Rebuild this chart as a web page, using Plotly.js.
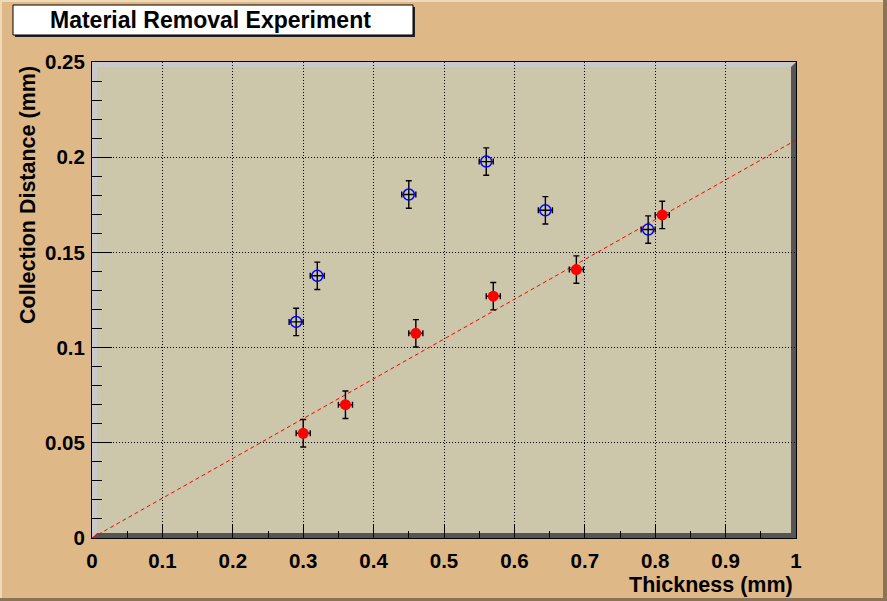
<!DOCTYPE html>
<html>
<head>
<meta charset="utf-8">
<script src="https://cdn.plot.ly/plotly-3.0.1.min.js"></script>
<style>html,body{margin:0;padding:0;background:#dfb887;}#chart{width:887px;height:601px;}</style>
</head>
<body>
<div id="chart"></div>
<script>
// ---- data ----
const redX    = [0.30, 0.36, 0.46, 0.57, 0.688, 0.81];
const redY    = [0.055, 0.070, 0.1075, 0.127, 0.141, 0.1697];
const redXErr = [0.01, 0.01, 0.01, 0.01, 0.01, 0.01];
const redYErr = [0.0072, 0.0072, 0.0072, 0.0072, 0.0072, 0.0072];

const blueX    = [0.29, 0.32, 0.45, 0.56, 0.644, 0.79];
const blueY    = [0.1135, 0.1377, 0.1804, 0.1977, 0.1721, 0.162];
const blueXErr = [0.01, 0.01, 0.01, 0.01, 0.01, 0.01];
const blueYErr = [0.0072, 0.0072, 0.0072, 0.0072, 0.0072, 0.0072];

const fitX = [0, 1];
const fitY = [0, 0.209];

const xTickVals = [0, 0.1, 0.2, 0.3, 0.4, 0.5, 0.6, 0.7, 0.8, 0.9, 1];
const xTickText = ['0','0.1','0.2','0.3','0.4','0.5','0.6','0.7','0.8','0.9','1'];
const yTickVals = [0, 0.05, 0.1, 0.15, 0.2, 0.25];
const yTickText = ['0','0.05','0.1','0.15','0.2','0.25'];

const titleText = 'Material Removal Experiment';
const xTitle = 'Thickness (mm)';
const yTitle = 'Collection Distance (mm)';

// ---- layout helpers (pixel -> paper) ----
const W = 887, H = 601, L = 92, R = 91, T = 62, B = 63;
const PW = W - L - R, PH = H - T - B;
const fx = p => (p - L) / PW;
const fy = p => (H - B - p) / PH;
const FONT = '"Liberation Sans", Arial, Helvetica, sans-serif';

function rect(x0, y0, x1, y1, fill, line, lw) {
  return {type: 'rect', xref: 'paper', yref: 'paper', layer: 'below',
    x0: fx(x0), x1: fx(x1), y0: fy(y0), y1: fy(y1),
    fillcolor: fill, line: {color: line || fill, width: lw === undefined ? 0 : lw}};
}
function poly(pts, fill) {
  const d = pts.map((p, i) => (i ? 'L' : 'M') + fx(p[0]) + ',' + fy(p[1])).join(' ') + ' Z';
  return {type: 'path', xref: 'paper', yref: 'paper', layer: 'below', path: d,
    fillcolor: fill, line: {width: 0}};
}

const pl = L, pr = W - R, pt = T, pb = H - B, bv = 5;
const shapes = [
  // canvas border
  rect(0, 0, W, 2, '#efd9b8'),
  rect(0, 0, 2, H, '#efd9b8'),
  rect(0, H - 3, W, H, '#8a7458'),
  rect(W - 4, 0, W, H, '#8a7458'),
  // plot background
  rect(pl, pt, pr, pb, '#ccc6aa'),
  // bevel light (top/left)
  poly([[pl, pt], [pr, pt], [pr - bv, pt + bv], [pl + bv, pt + bv], [pl + bv, pb - bv], [pl, pb]], '#c9c9c9'),
  // bevel dark (bottom/right)
  poly([[pr, pt], [pr, pb], [pl, pb], [pl + bv, pb - bv], [pr - bv, pb - bv], [pr - bv, pt + bv]], '#555555'),
  // title box shadow + box
  rect(15, 7, 415, 37, '#222222'),
  rect(13, 5, 413, 35, '#ffffff', '#000000', 1)
];

const errStyle = {color: '#000000', thickness: 1.4, width: 3};

const traces = [
  {x: fitX, y: fitY, type: 'scatter', mode: 'lines',
   line: {color: '#ff0000', width: 1, dash: '4px,3px'}, hoverinfo: 'skip', showlegend: false},
  {x: blueX, y: blueY, type: 'scatter', mode: 'markers', showlegend: false,
   marker: {symbol: 'circle-open', size: 11, color: '#0000ff', line: {width: 1.5, color: '#0000ff'}},
   error_x: Object.assign({type: 'data', array: blueXErr}, errStyle),
   error_y: Object.assign({type: 'data', array: blueYErr}, errStyle)},
  {x: redX, y: redY, type: 'scatter', mode: 'markers', showlegend: false,
   marker: {symbol: 'circle', size: 11, color: '#ff0000', line: {width: 0}},
   error_x: Object.assign({type: 'data', array: redXErr}, errStyle),
   error_y: Object.assign({type: 'data', array: redYErr}, errStyle)}
];

const axisCommon = {
  showline: true, linecolor: '#000000', linewidth: 1, mirror: true,
  ticks: 'inside', tickcolor: '#000000', tickwidth: 1,
  showgrid: true, gridcolor: '#000000', gridwidth: 1, griddash: '1px,2px',
  zeroline: false, tickmode: 'array',
  tickfont: {family: FONT, size: 20.5, color: '#000000', weight: 'bold'}
};

const layout = {
  width: W, height: H,
  margin: {l: L, r: R, t: T, b: B, pad: 0},
  paper_bgcolor: '#dfb887',
  plot_bgcolor: 'rgba(0,0,0,0)',
  showlegend: false,
  xaxis: Object.assign({}, axisCommon, {
    range: [0, 1], tickvals: xTickVals, ticktext: xTickText, ticklen: 14,
    minor: {dtick: 0.05, tick0: 0, ticks: 'inside', ticklen: 7, tickcolor: '#000000', tickwidth: 1, showgrid: false},
    ticklabelstandoff: 4
  }),
  yaxis: Object.assign({}, axisCommon, {
    range: [0, 0.25], tickvals: yTickVals, ticktext: yTickText, ticklen: 20,
    minor: {dtick: 0.01, tick0: 0, ticks: 'inside', ticklen: 10, tickcolor: '#000000', tickwidth: 1, showgrid: false},
    ticklabelstandoff: 2
  }),
  shapes: shapes,
  annotations: [
    {text: titleText, xref: 'paper', yref: 'paper', x: fx(210), y: fy(20), xanchor: 'center', yanchor: 'middle',
     showarrow: false, font: {family: FONT, size: 23, color: '#000000', weight: 'bold'}},
    {text: xTitle, xref: 'paper', yref: 'paper', x: fx(795), y: fy(585), xanchor: 'right', yanchor: 'middle',
     showarrow: false, font: {family: FONT, size: 21.5, color: '#000000', weight: 'bold'}},
    {text: yTitle, xref: 'paper', yref: 'paper', x: fx(28), y: fy(64), xanchor: 'center', yanchor: 'top', textangle: -90,
     showarrow: false, font: {family: FONT, size: 21.5, color: '#000000', weight: 'bold'}}
  ]
};

Plotly.newPlot('chart', traces, layout, {displayModeBar: false, staticPlot: true});
</script>
</body>
</html>
